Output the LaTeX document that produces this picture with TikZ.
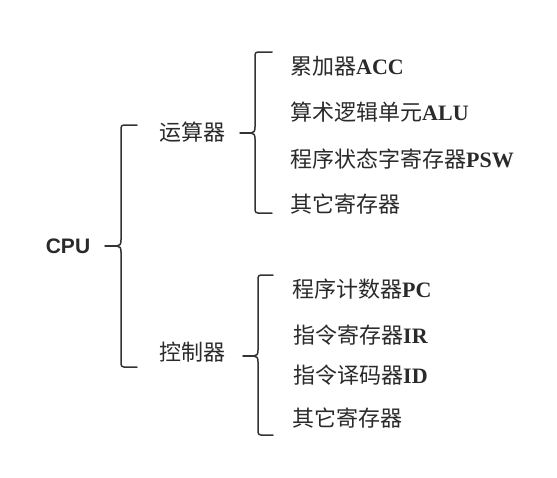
\documentclass[tikz,border=0pt]{standalone}
\usepackage{fontspec}
\setmainfont{Liberation Serif}
\newfontfamily\cjk{Noto Sans CJK SC}
\newfontfamily\cpufont{Liberation Sans}
\definecolor{ink}{HTML}{2A2A2A}
\definecolor{lineink}{HTML}{333333}
\tikzset{
  br/.style={draw=lineink, line width=1.5pt, line cap=round, line join=round},
  item/.style={anchor=west, inner sep=0pt, text=ink, font=\fontsize{22}{22}\selectfont\cjk},
  mid/.style={inner sep=0pt, text=ink, font=\fontsize{22}{22}\selectfont\cjk},
  top/.style={inner sep=0pt, text=ink, font=\fontsize{21}{21}\selectfont\cpufont\bfseries}
}
\newcommand{\lat}[1]{{\fontspec{Liberation Serif}\bfseries #1}}
\begin{document}
\begin{tikzpicture}[x=1pt,y=-1pt]
\useasboundingbox (0,0) rectangle (557,477);
% labels
\node[top] (cpu) at (68,246) {CPU};
\node[mid] (ysq) at (192,132) {运算器};
\node[mid] (kzq) at (192,352) {控制器};
\node[item] (a1) at (290,66) {累加器\lat{ACC}};
\node[item] (a2) at (290,112) {算术逻辑单元\lat{ALU}};
\node[item] (a3) at (290,159) {程序状态字寄存器\lat{PSW}};
\node[item] (a4) at (290,204) {其它寄存器};
\node[item] (b1) at (292,289) {程序计数器\lat{PC}};
\node[item] (b2) at (293,335) {指令寄存器\lat{IR}};
\node[item] (b3) at (293,375) {指令译码器\lat{ID}};
\node[item] (b4) at (292,418) {其它寄存器};
% brace tips
\coordinate (t1) at (117,246);
\coordinate (t2) at (251,133);
\coordinate (t3) at (254,356);
\coordinate (s1) at (105,246);
\coordinate (s2) at (240,133);
\coordinate (s3) at (243,356);
% braces
\draw[br] (137,125) -- (124,125) .. controls (122,125) and (121,126) .. (121,128)
  -- (121,240) .. controls (121,244) and (120,246) .. (t1)
  .. controls (120,246) and (121,248) .. (121,252)
  -- (121,364) .. controls (121,366) and (122,367) .. (124,367) -- (137,367);
\draw[br] (272,52) -- (258,52) .. controls (256,52) and (255,53) .. (255,55)
  -- (255,127) .. controls (255,131) and (254,133) .. (t2)
  .. controls (254,133) and (255,135) .. (255,139)
  -- (255,210) .. controls (255,212) and (256,213) .. (258,213) -- (272,213);
\draw[br] (273,275) -- (261,275) .. controls (259,275) and (258,276) .. (258,278)
  -- (258,350) .. controls (258,354) and (257,356) .. (t3)
  .. controls (257,356) and (258,358) .. (258,362)
  -- (258,432) .. controls (258,434) and (259,435) .. (261,435) -- (273,435);
% stubs
\draw[br] (s1) -- (t1);
\draw[br] (s2) -- (t2);
\draw[br] (s3) -- (t3);
\end{tikzpicture}
\end{document}
